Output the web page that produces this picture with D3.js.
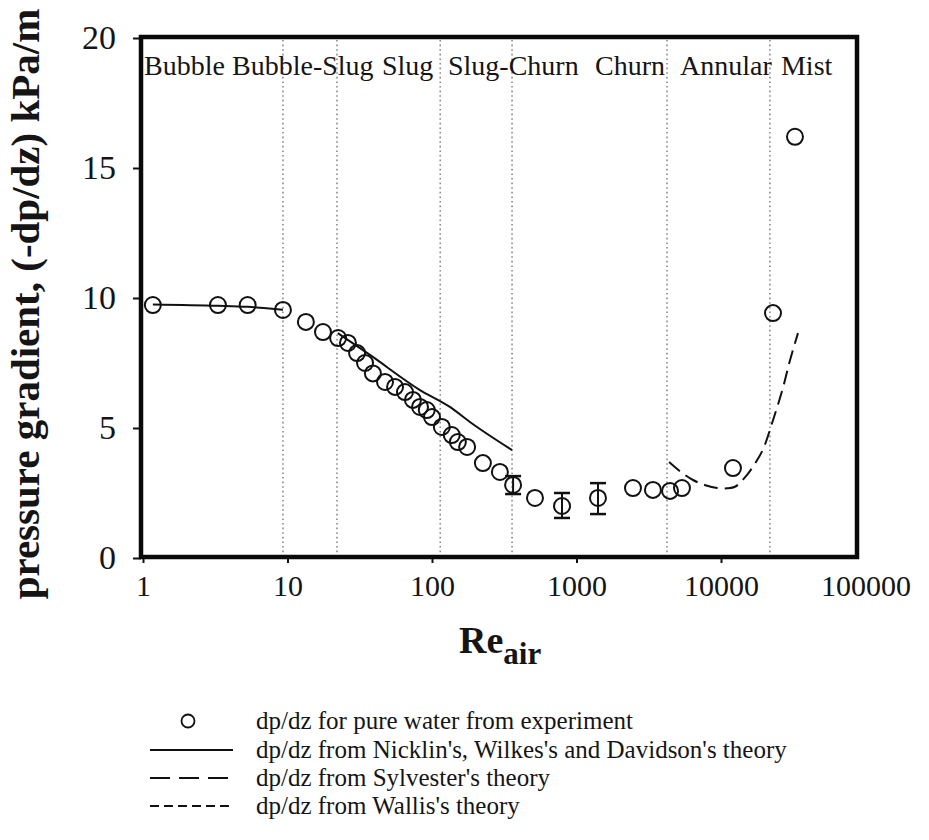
<!DOCTYPE html>
<html><head><meta charset="utf-8">
<script src="https://cdn.jsdelivr.net/npm/d3@7"></script>
<style>
body{margin:0;background:#fff}
svg{display:block}
text{font-family:"Liberation Serif","Times New Roman",serif;fill:#151515}
</style>
</head><body>
<svg id="c" width="929" height="840"></svg>
<script>
// ---------- data ----------
const reExp = [1.17, 3.3, 5.3, 9.3, 13.4, 17.6, 22.4, 26.2, 30.3, 34.4, 39, 47.3, 55.5, 65, 73.8, 82.6, 92, 100, 117, 137, 151, 175, 225, 295, 364, 516, 794, 1408, 2460, 3380, 4440, 5370, 12100, 22900, 32500];
const dpExp = [9.73, 9.73, 9.73, 9.54, 9.08, 8.69, 8.46, 8.27, 7.88, 7.5, 7.1, 6.77, 6.58, 6.38, 6.08, 5.81, 5.69, 5.42, 5.04, 4.73, 4.46, 4.27, 3.65, 3.31, 2.81, 2.31, 2.0, 2.31, 2.69, 2.62, 2.58, 2.69, 3.46, 9.42, 16.2];
const errRe = [364, 794, 1408];
const errLo = [2.46, 1.54, 1.69];
const errHi = [3.15, 2.50, 2.88];
const nickBubbleRe = [1.17, 3.3, 5.3, 9.3];
const nickBubbleDp = [9.75, 9.7, 9.66, 9.55];
const nickSlugRe = [22.3, 37.2, 82.6, 133, 183, 358];
const nickSlugDp = [8.65, 7.81, 6.46, 5.81, 5.23, 4.15];
const sylRe = [4370, 5300, 6400, 7800, 9400, 11000, 12600, 15100, 17500, 19600, 22900, 26700, 30000, 34100];
const sylDp = [3.69, 3.3, 3.0, 2.8, 2.69, 2.68, 2.75, 3.19, 3.7, 4.2, 5.3, 6.5, 7.6, 8.65];
const regimeBounds = [9.3, 22, 114, 358, 4230, 21800];
const regimeNames = ["Bubble", "Bubble-Slug", "Slug", "Slug-Churn", "Churn", "Annular", "Mist"];
const regimeLabelRe = [1.016, 4.13, 45.1, 129, 1343, 5200, 26000];
const xTicks = [1, 10, 100, 1000, 10000, 100000];
const xTickLabels = ["1", "10", "100", "1000", "10000", "100000"];
const yTicks = [0, 5, 10, 15, 20];
const yTickLabels = ["0", "5", "10", "15", "20"];
const legendLabels = [
  "dp/dz for pure water from experiment",
  "dp/dz from Nicklin's, Wilkes's and Davidson's theory",
  "dp/dz from Sylvester's theory",
  "dp/dz from Wallis's theory"
];
const yTitle = "pressure gradient, (-dp/dz) kPa/m";

// ---------- layout ----------
const svg = d3.select("#c");
const frame = {left: 141, right: 857, top: 37, bottom: 557};
const x = d3.scaleLog().domain([1, 100000]).range([143, 865.5]);
const y = d3.scaleLinear().domain([0, 20]).range([558, 38]);

// regime boundaries (dotted)
svg.append("g").selectAll("line").data(regimeBounds).join("line")
  .attr("x1", d => x(d)).attr("x2", d => x(d))
  .attr("y1", frame.top + 3).attr("y2", frame.bottom - 3)
  .attr("stroke", "#8a8a8a").attr("stroke-width", 1.6)
  .attr("stroke-dasharray", "1.6,3");

// regime labels
svg.append("g").selectAll("text").data(regimeNames).join("text")
  .attr("x", (d, i) => x(regimeLabelRe[i]))
  .attr("y", 75)
  .attr("font-size", 28)
  .text(d => d);

// axes
const xAxis = d3.axisBottom(x).tickValues(xTicks)
  .tickFormat((d, i) => xTickLabels[i]).tickSize(6).tickPadding(12);
const gx = svg.append("g").attr("transform", `translate(0,${frame.bottom})`).call(xAxis);
gx.select(".domain").remove();
gx.selectAll(".tick line").attr("stroke", "#111").attr("stroke-width", 2)
  .attr("opacity", d => d > 90000 ? 0 : 1);
gx.selectAll(".tick text").attr("font-size", 30).attr("fill", "#151515")
  .attr("font-family", "Liberation Serif, serif");

const yAxis = d3.axisLeft(y).tickValues(yTicks)
  .tickFormat((d, i) => yTickLabels[i]).tickSize(8).tickPadding(17);
const gy = svg.append("g").attr("transform", `translate(${frame.left},0)`).call(yAxis);
gy.select(".domain").remove();
gy.selectAll(".tick line").attr("stroke", "#111").attr("stroke-width", 2);
gy.selectAll(".tick text").attr("font-size", 34).attr("fill", "#151515")
  .attr("font-family", "Liberation Serif, serif");

// frame
svg.append("rect")
  .attr("x", frame.left).attr("y", frame.top)
  .attr("width", frame.right - frame.left).attr("height", frame.bottom - frame.top)
  .attr("fill", "none").attr("stroke", "#0a0a0a").attr("stroke-width", 4.5);

// Nicklin line (solid)
const line = d3.line().x(d => x(d[0])).y(d => y(d[1])).curve(d3.curveMonotoneX);
svg.append("path").datum(nickBubbleRe.map((r, i) => [r, nickBubbleDp[i]]))
  .attr("d", line).attr("fill", "none").attr("stroke", "#111").attr("stroke-width", 2);
svg.append("path").datum(nickSlugRe.map((r, i) => [r, nickSlugDp[i]]))
  .attr("d", line).attr("fill", "none").attr("stroke", "#111").attr("stroke-width", 2);

// Sylvester (long dash)
svg.append("path").datum(sylRe.map((r, i) => [r, sylDp[i]]))
  .attr("d", d3.line().x(d => x(d[0])).y(d => y(d[1])).curve(d3.curveCatmullRom))
  .attr("fill", "none").attr("stroke", "#111").attr("stroke-width", 2)
  .attr("stroke-dasharray", "14,7");

// error bars
const eb = svg.append("g");
errRe.forEach((r, i) => {
  const cx = x(r);
  eb.append("line").attr("x1", cx).attr("x2", cx).attr("y1", y(errLo[i])).attr("y2", y(errHi[i]))
    .attr("stroke", "#111").attr("stroke-width", 2);
  [errLo[i], errHi[i]].forEach(v => {
    eb.append("line").attr("x1", cx - 8).attr("x2", cx + 8).attr("y1", y(v)).attr("y2", y(v))
      .attr("stroke", "#111").attr("stroke-width", 2.5);
  });
});

// experimental points
svg.append("g").selectAll("circle").data(reExp).join("circle")
  .attr("cx", d => x(d)).attr("cy", (d, i) => y(dpExp[i]))
  .attr("r", 8).attr("fill", "none").attr("stroke", "#111").attr("stroke-width", 2);

// y title
svg.append("text")
  .attr("transform", "translate(39,304) rotate(-90)")
  .attr("text-anchor", "middle")
  .attr("font-size", 41).attr("font-weight", "bold")
  .text(yTitle);

// x title
const xt = svg.append("text").attr("x", 459).attr("y", 653)
  .attr("font-size", 38).attr("font-weight", "bold");
xt.append("tspan").text("Re");
xt.append("tspan").attr("dy", 11).attr("font-size", 31).text("air");

// legend
const lg = svg.append("g");
const rowY = [721, 750, 778, 806];
lg.append("circle").attr("cx", 188).attr("cy", rowY[0]).attr("r", 6.5)
  .attr("fill", "none").attr("stroke", "#111").attr("stroke-width", 1.8);
lg.append("line").attr("x1", 150).attr("x2", 233).attr("y1", rowY[1]).attr("y2", rowY[1])
  .attr("stroke", "#111").attr("stroke-width", 1.8);
lg.append("line").attr("x1", 150).attr("x2", 233).attr("y1", rowY[2]).attr("y2", rowY[2])
  .attr("stroke", "#111").attr("stroke-width", 1.8).attr("stroke-dasharray", "20,9");
lg.append("line").attr("x1", 150).attr("x2", 233).attr("y1", rowY[3]).attr("y2", rowY[3])
  .attr("stroke", "#111").attr("stroke-width", 1.8).attr("stroke-dasharray", "9,5");
lg.selectAll("text.l").data(legendLabels).join("text").attr("class", "l")
  .attr("x", 256).attr("y", (d, i) => rowY[i] + 8)
  .attr("font-size", 25).text(d => d);
</script>
</body></html>
